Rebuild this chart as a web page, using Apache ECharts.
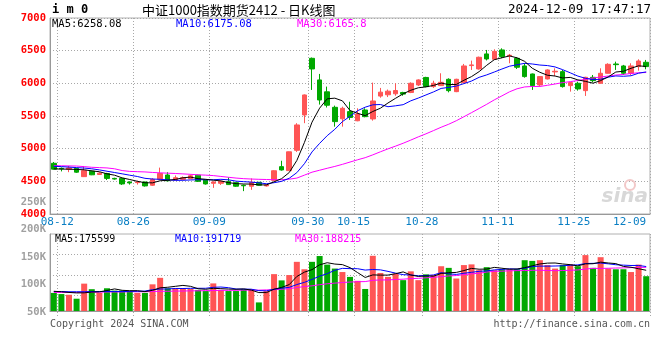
<!DOCTYPE html>
<html><head><meta charset="utf-8">
<script src="https://cdn.jsdelivr.net/npm/echarts@6/dist/echarts.min.js"></script>
<style>html,body{margin:0;padding:0;background:#fff}#c{width:660px;height:360px}</style>
</head><body><div id="c"></div>
<script>
const dates = ['08-12','08-13','08-14','08-15','08-16','08-19','08-20','08-21','08-22','08-23','08-26','08-27','08-28','08-29','08-30','09-02','09-03','09-04','09-05','09-06','09-09','09-10','09-11','09-12','09-13','09-18','09-19','09-20','09-23','09-24','09-25','09-26','09-27','09-30','10-08','10-09','10-10','10-11','10-14','10-15','10-16','10-17','10-18','10-21','10-22','10-23','10-24','10-25','10-28','10-29','10-30','10-31','11-01','11-04','11-05','11-06','11-07','11-08','11-11','11-12','11-13','11-14','11-15','11-18','11-19','11-20','11-21','11-22','11-25','11-26','11-27','11-28','11-29','12-02','12-03','12-04','12-05','12-06','12-09'];
const labelDates = ['08-12','08-26','09-09','09-30','10-15','10-28','11-11','11-25','12-09'];

const openP  = [4776,4699,4685,4699,4572,4655,4605,4620,4545,4545,4490,4480,4490,4440,4530,4597,4521,4530,4540,4595,4521,4470,4470,4495,4480,4440,4425,4485,4430,4515,4725,4664,4975,5516,6383,6052,5870,5633,5457,5567,5427,5592,5455,5805,5825,5840,5860,5860,5975,6090,5950,5965,6062,5873,6011,6272,6220,6450,6368,6511,6420,6383,6266,6143,5975,6067,6175,6179,5965,6001,5888,6092,6001,6154,6296,6266,6154,6256,6322];
const closeP = [4686,4690,4705,4640,4664,4600,4625,4545,4535,4460,4475,4490,4430,4530,4620,4508,4556,4556,4585,4500,4460,4490,4500,4450,4425,4432,4485,4440,4445,4662,4674,4952,5363,5822,6220,5745,5665,5414,5618,5478,5531,5490,5730,5865,5880,5890,5835,6001,6052,5950,6001,6016,5888,6062,6266,6282,6399,6373,6490,6409,6430,6246,6103,5965,6103,6205,6185,5950,6011,5914,6092,6041,6154,6291,6286,6154,6266,6342,6256];
const lowP   = [4680,4652,4640,4630,4566,4595,4600,4520,4525,4445,4450,4450,4420,4430,4525,4500,4515,4525,4535,4490,4450,4400,4445,4445,4415,4350,4370,4435,4420,4510,4664,4660,4950,5390,5899,5675,5630,5337,5337,5440,5420,5480,5429,5780,5790,5810,5810,5850,5960,5940,5930,5960,5862,5865,6000,6205,6210,6350,6360,6385,6307,6220,6087,5899,5950,6060,6113,5935,5873,5888,5807,6016,5995,6150,6205,6128,6128,6194,6215];
const highP  = [4796,4712,4735,4705,4735,4665,4640,4630,4555,4550,4500,4510,4495,4550,4710,4640,4590,4575,4605,4600,4525,4500,4510,4560,4485,4450,4545,4490,4460,4670,4815,4955,5390,5830,6395,6144,5950,5659,5643,5718,5618,5618,6011,5930,5905,6000,5870,6015,6062,6100,6040,6154,6077,6070,6297,6348,6409,6511,6521,6536,6450,6399,6307,6150,6110,6215,6230,6205,6020,6025,6100,6128,6230,6307,6332,6282,6307,6368,6358];

const ma5  = [4690,4688,4686,4682,4677,4660,4647,4615,4594,4553,4528,4501,4478,4477,4509,4516,4529,4554,4565,4541,4531,4518,4507,4480,4465,4459,4458,4446,4445,4493,4541,4635,4819,5095,5406,5620,5763,5773,5732,5584,5541,5506,5569,5619,5699,5771,5840,5894,5932,5946,5968,6004,5981,5983,6047,6103,6179,6276,6362,6391,6420,6390,6336,6231,6169,6124,6112,6082,6091,6053,6030,6002,6042,6098,6173,6185,6230,6268,6258.08];
const ma10 = [4730,4725,4718,4710,4703,4692,4675,4655,4635,4615,4594,4574,4546,4535,4531,4522,4515,4516,4521,4525,4524,4524,4531,4523,4503,4495,4488,4477,4463,4479,4500,4547,4633,4770,4950,5081,5199,5296,5414,5495,5581,5635,5671,5676,5642,5656,5673,5732,5775,5822,5869,5922,5938,5958,5996,6035,6092,6129,6173,6219,6262,6285,6306,6296,6280,6272,6251,6209,6161,6111,6077,6057,6062,6095,6113,6108,6116,6155,6175.08];
const ma30 = [4740,4738,4736,4734,4725,4715,4710,4705,4692,4665,4652,4648,4644,4636,4630,4625,4620,4614,4607,4600,4595,4588,4575,4562,4550,4541,4535,4531,4528,4525,4525,4533,4550,4595,4640,4670,4700,4728,4760,4795,4830,4862,4905,4952,4997,5039,5083,5131,5181,5227,5277,5328,5374,5428,5489,5551,5615,5679,5747,5808,5870,5917,5945,5952,5952,5970,5990,6011,6026,6043,6062,6082,6097,6112,6127,6136,6151,6162,6165.8];

// volume in thousands of lots
const volK  = [78,73,70,53,118,94,78,98,88,88,86,78,78,115,143,98,98,98,95,91,86,119,91,86,86,94,94,37,86,159,132,155,212,180,212,237,200,183,168,147,130,95,238,164,147,161,133,171,133,158,155,193,186,140,198,201,176,189,176,180,180,180,219,216,219,198,183,198,201,193,241,186,232,183,180,180,168,200,150];
const vma5  = [85,83,80,78,78.4,81.6,82.6,88.2,95.2,89.2,87.6,87.6,83.6,89,100,102.4,106.4,110.4,106.4,96,93.6,97.8,96.4,94.6,93.6,95.2,90.2,79.4,79.4,94,101.6,113.8,148.8,167.6,178.2,199.2,208.2,202.4,200,187,165.6,144.6,155.6,154.8,154.8,161,168.6,155.2,149,151.2,150,162,165,166.4,174.4,183.6,180.2,180.8,188,184.4,180.2,181,187,195,202.8,206.4,207,202.8,199.8,194.6,203.2,203.8,210.6,207,204.4,192.2,188.6,182.2,175.599];
const vma10 = [84,84,83,83,83,84,84,84,84,83.8,84.6,85.1,85.9,92.1,94.6,95,97,97,97.7,98,98,102.1,103.4,100.5,94.8,94.4,94,87.9,87,93.8,98.4,102,114.1,123.5,136.1,150.4,161,175.6,183.8,182.6,182.4,176.4,179,177.4,170.9,163.3,156.6,155.4,151.9,153,155.5,165.3,160.1,157.7,162.8,166.8,171.1,172.9,177.2,179.4,181.9,180.6,183.9,191.5,193.6,193.3,194,194.9,197.4,198.7,204.8,205.4,206.7,203.4,199.5,197.7,196.2,196.4,191.719];
const vma30 = [80,80,80,80,81,81,81,82,82,82,83,83,83,84,85,85,86,86,87,87,88,88,89,89,89,90,90,90,91,91.9,93.7,96.4,101.1,105.4,108.5,113.3,117.3,120.2,122.8,124.8,126.3,126.8,132.2,133.8,133.9,136,137.2,139.6,140.9,143.1,145.4,147.9,151.1,152.9,156.6,160.2,162.9,168,171,171.7,173.3,174.1,174.3,175.5,175.8,174.5,173.9,174.4,175.5,177,180.7,183.8,183.6,184.2,185.3,185.9,187.1,188.1,188.215];

const priceTicks = {min: 4000, max: 7000, step: 500};
const volTicks = {min: 50, max: 250, step: 50};   // K labels: 50K..250K

const RED = '#ff5555', GREEN = '#00a800';
const MONO = '"DejaVu Sans Mono", monospace';
const GRIDC = '#a8a8a8';
const last = a => a[a.length - 1];

const labelFn = (i, v) => labelDates.indexOf(v) >= 0;
const splitFn = (i) => i > 0 && labelDates.indexOf(dates[i - 1]) >= 0;

const candleData = dates.map((d, i) => [openP[i], closeP[i], lowP[i], highP[i]]);
const volData = dates.map((d, i) => ({value: volK[i], itemStyle: {color: closeP[i] >= openP[i] ? RED : GREEN}}));

const chart = echarts.init(document.getElementById('c'), null, {renderer: 'canvas'});
const dotted = {color: GRIDC, type: [1, 2], width: 1};

chart.setOption({
  animation: false,
  backgroundColor: '#ffffff',
  grid: [
    {left: 50, right: 10, top: 18, bottom: 146, show: true, borderColor: '#b0b0b0', borderWidth: 1, outerBoundsMode: 'none'},
    {left: 50, right: 10, top: 234, bottom: 49, show: true, borderColor: '#b0b0b0', borderWidth: 1, outerBoundsMode: 'none'},
    {left: 50, right: 10, top: 234, bottom: 44, show: false, outerBoundsMode: 'none'},
    {left: 50, right: 10, top: 202, bottom: 48, show: false, outerBoundsMode: 'none'}
  ],
  xAxis: [
    {gridIndex: 0, type: 'category', data: dates, boundaryGap: true,
     axisLine: {lineStyle: {color: '#999', width: 1}}, axisTick: {show: false},
     axisLabel: {interval: labelFn, color: '#0a7fc4', fontFamily: MONO, fontSize: 11, margin: 3, padding: [0, 0, 0, 7], alignMaxLabel: 'right'},
     splitLine: {show: true, interval: splitFn, lineStyle: dotted}},
    {gridIndex: 1, type: 'category', data: dates, boundaryGap: true,
     axisLine: {lineStyle: {color: '#999', width: 1}}, axisTick: {show: false}, axisLabel: {show: false}, splitLine: {show: false}},
    {gridIndex: 2, type: 'category', data: dates, boundaryGap: true,
     axisLine: {show: false}, axisTick: {show: false}, axisLabel: {show: false},
     splitLine: {show: true, interval: splitFn, lineStyle: dotted}},
    {gridIndex: 3, type: 'category', data: dates, show: false}
  ],
  yAxis: [
    {gridIndex: 0, type: 'value', min: priceTicks.min, max: priceTicks.max, interval: priceTicks.step,
     axisLine: {show: true, lineStyle: {color: '#999', width: 1}}, axisTick: {show: false},
     axisLabel: {color: '#ff0000', fontFamily: MONO, fontSize: 10.5, fontWeight: 'bold', margin: 4, padding: [0, 0, 4, 0], formatter: v => String(v)},
     splitLine: {show: true, lineStyle: dotted}},
    {gridIndex: 1, type: 'value', min: 0, max: 332,
     axisLine: {show: true, lineStyle: {color: '#999', width: 1}}, axisTick: {show: false}, axisLabel: {show: false}, splitLine: {show: false}},
    {gridIndex: 2, type: 'value', min: 0, max: 4, interval: 1,
     axisLine: {show: false}, axisTick: {show: false}, axisLabel: {show: false},
     splitLine: {show: true, showMinLine: false, showMaxLine: false, lineStyle: dotted}},
    {gridIndex: 3, type: 'value', min: volTicks.min, max: volTicks.max, interval: volTicks.step,
     axisLine: {show: false}, axisTick: {show: false}, splitLine: {show: false},
     axisLabel: {color: '#a0a0a0', fontFamily: MONO, fontSize: 10.5, fontWeight: 'bold', margin: 4, formatter: v => v + 'K'}}
  ],
  series: [
    {type: 'candlestick', xAxisIndex: 0, yAxisIndex: 0, data: candleData, barWidth: 5,
     itemStyle: {color: RED, color0: GREEN, borderColor: RED, borderColor0: GREEN, borderWidth: 1}},
    {type: 'line', xAxisIndex: 0, yAxisIndex: 0, data: ma30, symbol: 'none', lineStyle: {color: '#ff00ff', width: 1}, z: 3},
    {type: 'line', xAxisIndex: 0, yAxisIndex: 0, data: ma10, symbol: 'none', lineStyle: {color: '#0000ff', width: 1}, z: 3},
    {type: 'line', xAxisIndex: 0, yAxisIndex: 0, data: ma5, symbol: 'none', lineStyle: {color: '#000000', width: 1}, z: 3},
    {type: 'bar', xAxisIndex: 1, yAxisIndex: 1, data: volData, barWidth: 6},
    {type: 'line', xAxisIndex: 1, yAxisIndex: 1, data: vma30, symbol: 'none', lineStyle: {color: '#ff00ff', width: 1}, z: 3},
    {type: 'line', xAxisIndex: 1, yAxisIndex: 1, data: vma10, symbol: 'none', lineStyle: {color: '#0000ff', width: 1}, z: 3},
    {type: 'line', xAxisIndex: 1, yAxisIndex: 1, data: vma5, symbol: 'none', lineStyle: {color: '#000000', width: 1}, z: 3}
  ],
  graphic: [
    {type: 'text', x: 52, y: 10, style: {text: 'i m 0', font: 'bold 12px ' + MONO, fill: '#000', verticalAlign: 'middle'}},
    {type: 'text', x: 142, y: 10, style: {text: '中证1000指数期货2412 - 日K线图', font: '13px "Noto Sans CJK SC"', fill: '#000', verticalAlign: 'middle'}},
    {type: 'text', x: 651, y: 10, style: {text: '2024-12-09 17:47:17', font: '12.5px ' + MONO, fill: '#000', align: 'right', verticalAlign: 'middle'}},
    {type: 'text', x: 52, y: 24, z: 10, style: {text: 'MA5:' + last(ma5), font: '10.5px ' + MONO, fill: '#000', verticalAlign: 'middle'}},
    {type: 'text', x: 176, y: 24, z: 10, style: {text: 'MA10:' + last(ma10), font: '10.5px ' + MONO, fill: '#0000ff', verticalAlign: 'middle'}},
    {type: 'text', x: 297, y: 24, z: 10, style: {text: 'MA30:' + last(ma30), font: '10.5px ' + MONO, fill: '#ff00ff', verticalAlign: 'middle'}},
    {type: 'text', x: 55, y: 239, z: 10, style: {text: 'MA5:' + Math.round(last(vma5) * 1000), font: '10px ' + MONO, fill: '#000', verticalAlign: 'middle'}},
    {type: 'text', x: 175, y: 239, z: 10, style: {text: 'MA10:' + Math.round(last(vma10) * 1000), font: '10px ' + MONO, fill: '#0000ff', verticalAlign: 'middle'}},
    {type: 'text', x: 295, y: 239, z: 10, style: {text: 'MA30:' + Math.round(last(vma30) * 1000), font: '10px ' + MONO, fill: '#ff00ff', verticalAlign: 'middle'}},
    {type: 'text', x: 50, y: 324, style: {text: 'Copyright 2024 SINA.COM', font: '10px ' + MONO, fill: '#555', verticalAlign: 'middle'}},
    {type: 'text', x: 650, y: 324, style: {text: 'http://finance.sina.com.cn', font: '10px ' + MONO, fill: '#555', align: 'right', verticalAlign: 'middle'}},
    {type: 'text', x: 648, y: 197, z: 1, style: {text: 'sina', font: 'italic bold 20px "DejaVu Sans"', fill: '#d8d8d8', align: 'right', verticalAlign: 'middle'}},
    {type: 'circle', x: 630, y: 185, z: 1, shape: {r: 5}, style: {fill: 'none', stroke: '#f2c8c8', lineWidth: 2}}
  ]
});
</script></body></html>
